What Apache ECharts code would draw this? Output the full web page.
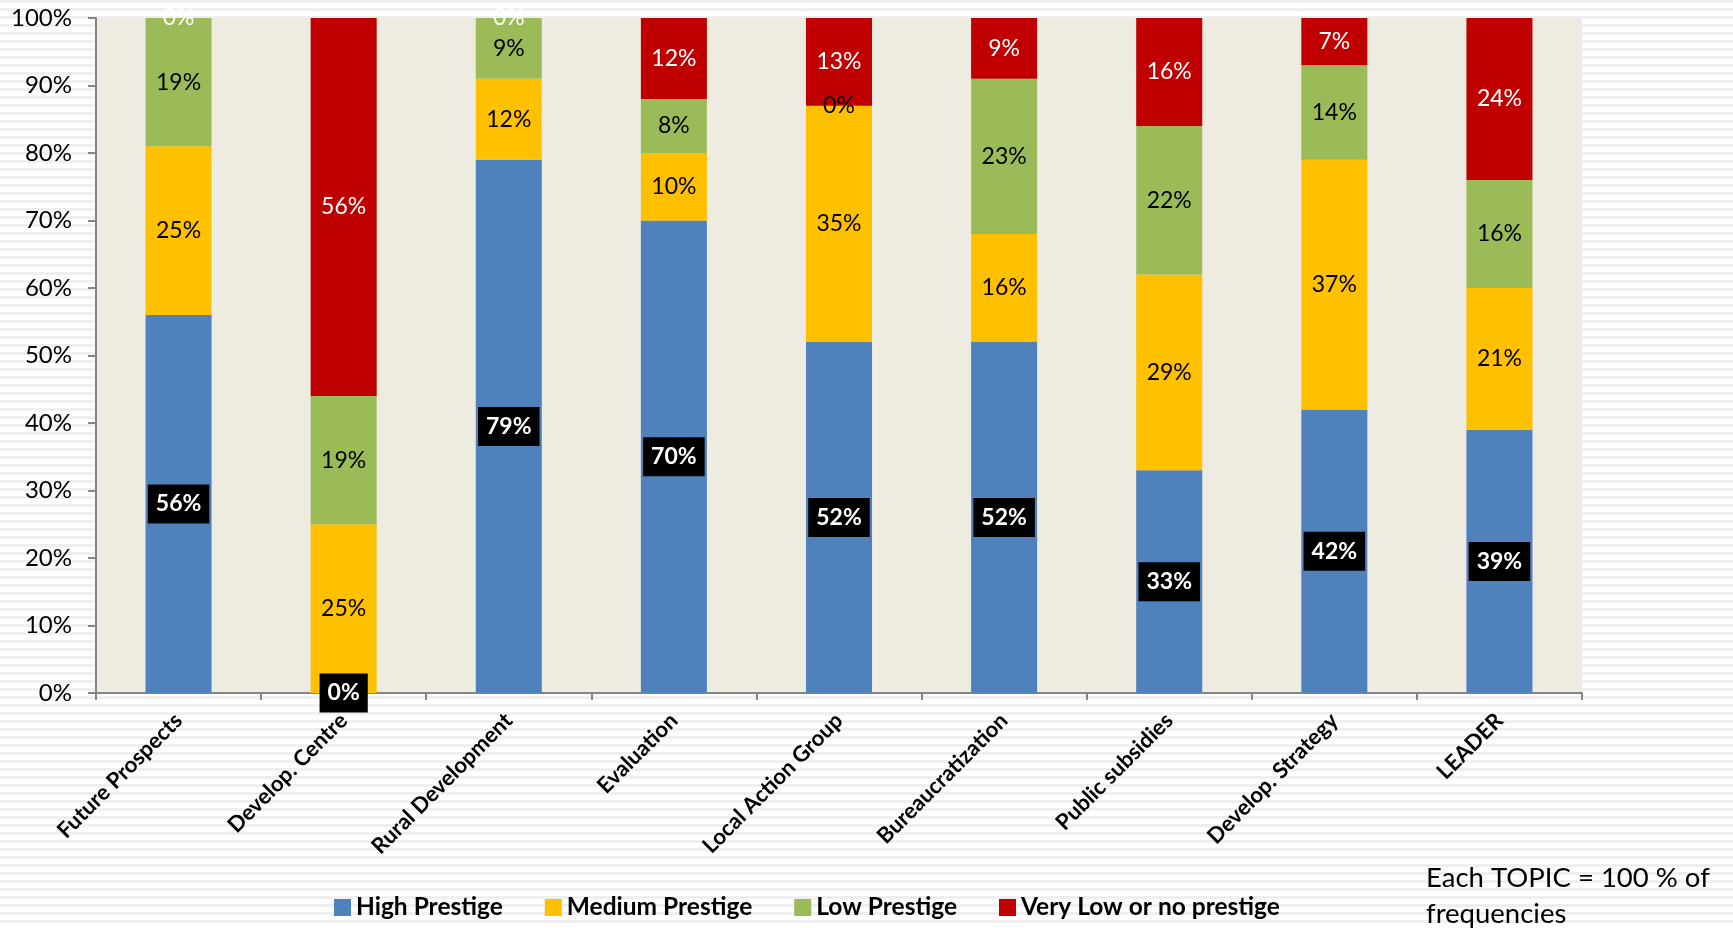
<!DOCTYPE html>
<html>
<head>
<meta charset="utf-8">
<script src="https://cdn.jsdelivr.net/npm/echarts@6/dist/echarts.min.js"></script>
<style>
  html, body { margin: 0; padding: 0; }
  body {
    width: 1733px; height: 928px; overflow: hidden;
    background: repeating-linear-gradient(to bottom, #efefef 0px, #efefef 3px, #ffffff 3px, #ffffff 8px);
  }
  #chart { width: 1733px; height: 928px; }
</style>
</head>
<body>
<div id="chart"></div>
<script>
// Topics and the share (%) of each prestige level within a topic
const topics = ['Future Prospects', 'Develop. Centre', 'Rural Development', 'Evaluation',
  'Local Action Group', 'Bureaucratization', 'Public subsidies', 'Develop. Strategy', 'LEADER'];
const highPrestige   = [56, 0, 79, 70, 52, 52, 33, 42, 39];
const mediumPrestige = [25, 25, 12, 10, 35, 16, 29, 37, 21];
const lowPrestige    = [19, 19, 9, 8, 0, 23, 22, 14, 16];
const veryLowPrestige = [0, 56, 0, 12, 13, 9, 16, 7, 24];
const yTicks = [0, 10, 20, 30, 40, 50, 60, 70, 80, 90, 100];

const FONT = 'Lato, "Open Sans", sans-serif';
const axisGrey = '#868686';

function seg(name, data, color, label) {
  return {
    name, type: 'bar', stack: 'total', data,
    barWidth: '40%',
    itemStyle: { color },
    label: Object.assign({
      show: true, position: 'inside', formatter: '{c}%',
      fontFamily: FONT, fontSize: 23, color: '#000'
    }, label || {})
  };
}

const chart = echarts.init(document.getElementById('chart'), null, { renderer: 'canvas' });
chart.setOption({
  backgroundColor: 'transparent',
  animation: false,
  textStyle: { fontFamily: FONT },
  grid: {
    left: 96, right: 151, top: 18, bottom: 235,
    show: true, backgroundColor: '#EEECE1', borderWidth: 0
  },
  legend: {
    left: 329, top: 890,
    itemWidth: 17, itemHeight: 17, itemGap: 42,
    icon: 'rect',
    textStyle: { fontFamily: FONT, fontSize: 24.5, fontWeight: 'bold', color: '#000' },
    data: ['High Prestige', 'Medium Prestige', 'Low Prestige', 'Very Low or no prestige']
  },
  xAxis: {
    type: 'category', data: topics,
    axisLine: { lineStyle: { color: axisGrey, width: 2 } },
    axisTick: { show: true, length: 7, lineStyle: { color: axisGrey, width: 2 } },
    axisLabel: {
      interval: 0, rotate: 45, margin: 24,
      fontFamily: FONT, fontSize: 22, fontWeight: 'bold', color: '#000'
    }
  },
  yAxis: {
    type: 'value', min: yTicks[0], max: yTicks[yTicks.length - 1], interval: 10,
    splitLine: { show: false },
    axisLine: { show: true, lineStyle: { color: axisGrey, width: 2 } },
    axisTick: { show: true, length: 8, lineStyle: { color: axisGrey, width: 2 } },
    axisLabel: {
      formatter: '{value}%', margin: 24,
      fontFamily: FONT, fontSize: 24, color: '#000'
    }
  },
  series: [
    seg('High Prestige', highPrestige, '#4F81BD', {
      color: '#fff', fontWeight: 'bold', backgroundColor: '#000', padding: [8, 8, 8, 8]
    }),
    seg('Medium Prestige', mediumPrestige, '#FFC000'),
    seg('Low Prestige', lowPrestige, '#9BBB59'),
    seg('Very Low or no prestige', veryLowPrestige, '#C00000', { color: '#fff' })
  ],
  graphic: [{
    type: 'text', left: 1426, top: 860,
    style: {
      text: 'Each TOPIC = 100 % of\nfrequencies',
      fontFamily: FONT, fontSize: 27.5, lineHeight: 36, fill: '#000'
    }
  }]
});
</script>
</body>
</html>
